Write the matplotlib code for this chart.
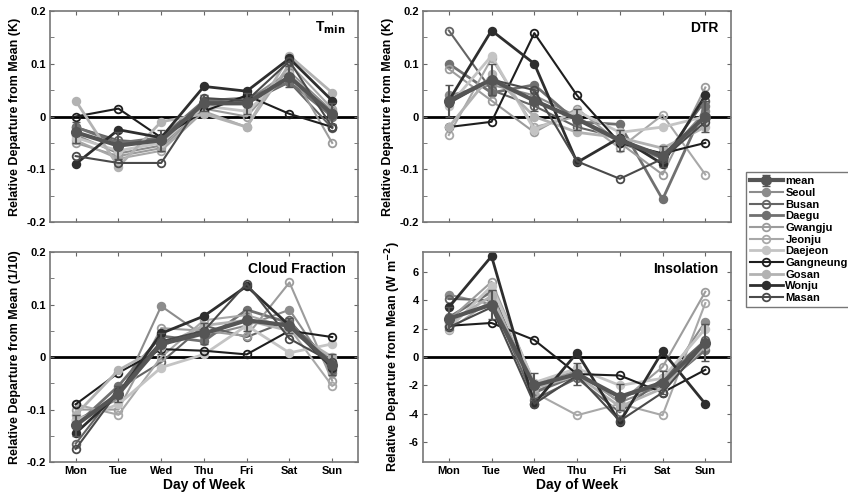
import matplotlib
matplotlib.use("Agg")
import matplotlib.pyplot as plt
import numpy as np
from matplotlib.ticker import MultipleLocator, FuncFormatter

plt.rcParams['font.family'] = ['Liberation Sans', 'DejaVu Sans']
plt.rcParams['font.weight'] = 'bold'
plt.rcParams['mathtext.default'] = 'bf'

days = ["Mon", "Tue", "Wed", "Thu", "Fri", "Sat", "Sun"]
stations = ["Seoul", "Busan", "Daegu", "Gwangju", "Jeonju", "Daejeon",
            "Gangneung", "Gosan", "Wonju", "Masan"]

# valores
tmin_mean = [-0.03, -0.055, -0.045, 0.025, 0.025, 0.075, 0.005]
tmin_err = [0.02, 0.025, 0.02, 0.015, 0.02, 0.02, 0.02]
tmin = {
    "Seoul":     [-0.035, -0.07, -0.055, 0.02, 0.03, 0.085, 0.01],
    "Busan":     [-0.02, -0.045, -0.05, 0.03, 0.025, 0.065, -0.022],
    "Daegu":     [-0.02, -0.05, -0.04, 0.03, 0.035, 0.065, 0.0],
    "Gwangju":   [-0.05, -0.075, -0.06, 0.015, 0.0, 0.09, -0.05],
    "Jeonju":    [-0.045, -0.08, -0.065, 0.01, -0.02, 0.1, 0.015],
    "Daejeon":   [-0.04, -0.065, -0.05, 0.02, 0.01, 0.08, 0.005],
    "Gangneung": [0.0, 0.015, -0.04, 0.01, 0.04, 0.005, -0.02],
    "Gosan":     [0.03, -0.095, -0.01, 0.005, -0.02, 0.115, 0.045],
    "Wonju":     [-0.09, -0.025, -0.04, 0.057, 0.048, 0.11, 0.03],
    "Masan":     [-0.075, -0.088, -0.088, 0.035, 0.03, 0.105, -0.02],
}

dtr_mean = [0.03, 0.07, 0.03, -0.005, -0.045, -0.075, 0.0]
dtr_err = [0.03, 0.03, 0.02, 0.02, 0.02, 0.02, 0.03]
dtr = {
    "Seoul":     [0.04, 0.06, 0.04, 0.0, -0.05, -0.08, 0.01],
    "Busan":     [0.163, 0.05, 0.02, -0.02, -0.04, -0.08, 0.03],
    "Daegu":     [0.1, 0.045, 0.06, -0.01, -0.015, -0.157, 0.02],
    "Gwangju":   [0.09, 0.03, -0.03, 0.015, -0.05, -0.11, 0.055],
    "Jeonju":    [-0.035, 0.11, -0.02, 0.0, -0.06, 0.003, -0.11],
    "Daejeon":   [0.02, 0.115, -0.025, 0.01, -0.03, -0.02, 0.0],
    "Gangneung": [-0.02, -0.01, 0.158, 0.04, -0.05, -0.07, -0.05],
    "Gosan":     [-0.02, 0.08, 0.0, -0.03, -0.04, -0.06, -0.02],
    "Wonju":     [0.03, 0.163, 0.1, -0.087, -0.04, -0.09, 0.04],
    "Masan":     [0.025, 0.07, 0.05, -0.085, -0.118, -0.08, -0.01],
}

cloud_mean = [-0.13, -0.07, 0.025, 0.045, 0.07, 0.06, -0.015]
cloud_err = [0.02, 0.015, 0.02, 0.02, 0.02, 0.015, 0.02]
cloud = {
    "Seoul":     [-0.12, -0.08, 0.097, 0.04, 0.06, 0.09, -0.03],
    "Busan":     [-0.165, -0.06, -0.01, 0.06, 0.038, 0.07, -0.025],
    "Daegu":     [-0.13, -0.055, 0.04, 0.03, 0.09, 0.065, -0.01],
    "Gwangju":   [-0.1, -0.1, 0.055, 0.05, 0.04, 0.142, -0.045],
    "Jeonju":    [-0.09, -0.11, 0.0, 0.07, 0.08, 0.055, -0.055],
    "Daejeon":   [-0.12, -0.09, -0.02, 0.005, 0.06, 0.008, 0.025],
    "Gangneung": [-0.09, -0.03, 0.015, 0.012, 0.005, 0.05, 0.038],
    "Gosan":     [-0.11, -0.025, 0.02, 0.06, 0.07, 0.05, 0.0],
    "Wonju":     [-0.145, -0.07, 0.045, 0.078, 0.135, 0.06, -0.02],
    "Masan":     [-0.175, -0.065, 0.03, 0.05, 0.14, 0.035, -0.01],
}

insol_mean = [2.7, 3.7, -2.0, -1.2, -2.8, -1.8, 1.0]
insol_err = [0.8, 1.0, 0.9, 0.8, 0.9, 0.8, 1.3]
insol = {
    "Seoul":     [4.4, 3.7, -2.5, -1.0, -3.2, -2.0, 2.5],
    "Busan":     [4.1, 4.0, -3.0, -1.5, -3.9, -1.5, 1.2],
    "Daegu":     [2.8, 4.6, -2.5, -1.3, -2.8, -2.0, 0.5],
    "Gwangju":   [2.6, 5.3, -1.8, -1.0, -3.2, -0.7, 4.6],
    "Jeonju":    [1.9, 4.0, -2.5, -4.1, -3.3, -4.1, 3.8],
    "Daejeon":   [2.0, 5.0, -1.8, -0.8, -2.0, -1.5, 2.0],
    "Gangneung": [2.2, 2.4, 1.2, -1.2, -1.3, -2.5, -0.9],
    "Gosan":     [2.4, 4.3, -2.2, -1.3, -3.5, -2.2, 0.8],
    "Wonju":     [3.5, 7.1, -3.3, 0.3, -4.6, 0.4, -3.3],
    "Masan":     [2.1, 3.5, -3.3, -1.3, -4.5, -2.5, 1.0],
}

# estilo de cada estacion (color, relleno, grosor)
styles = {
    "Seoul":     ("#8c8c8c", True, 1.5),
    "Busan":     ("#646464", False, 1.5),
    "Daegu":     ("#707070", True, 2.0),
    "Gwangju":   ("#9c9c9c", False, 1.5),
    "Jeonju":    ("#a8a8a8", False, 1.5),
    "Daejeon":   ("#c4c4c4", True, 2.0),
    "Gangneung": ("#1e1e1e", False, 1.5),
    "Gosan":     ("#b2b2b2", True, 2.0),
    "Wonju":     ("#2e2e2e", True, 2.0),
    "Masan":     ("#4a4a4a", False, 1.5),
}

x = np.arange(1, 8)

fig = plt.figure(figsize=(8.48, 4.99), dpi=100)
pos = [[0.059, 0.555, 0.363, 0.423], [0.499, 0.555, 0.363, 0.423],
       [0.059, 0.074, 0.363, 0.421], [0.499, 0.074, 0.363, 0.421]]

panels = [
    (tmin, tmin_mean, tmin_err, "T$_{min}$", "Relative Departure from Mean (K)", (-0.2, 0.2)),
    (dtr, dtr_mean, dtr_err, "DTR", "Relative Departure from Mean (K)", (-0.2, 0.2)),
    (cloud, cloud_mean, cloud_err, "Cloud Fraction", "Relative Departure from Mean (1/10)", (-0.2, 0.2)),
    (insol, insol_mean, insol_err, "Insolation", "Relative Departure from Mean (W m$^{-2}$)", (-7.4, 7.4)),
]

fmt = FuncFormatter(lambda v, p: "0" if abs(v) < 1e-9 else ("%g" % v))

handles = []
for i, (data, mean, err, title, ylab, ylim) in enumerate(panels):
    ax = fig.add_axes(pos[i])
    ax.axhline(0, color="black", lw=2, zorder=1)
    hs = []
    for s in stations:
        c, filled, lw = styles[s]
        h, = ax.plot(x, data[s], color=c, lw=lw, marker="o", ms=5.5,
                     mfc=c if filled else "none", mec=c, mew=1.3, label=s, zorder=2)
        hs.append(h)
    hm = ax.errorbar(x, mean, yerr=err, color="#555555", lw=3, marker="o", ms=7,
                     mfc="#555555", mec="#555555", capsize=3, elinewidth=1.5,
                     label="mean", zorder=3)
    if i == 0:
        handles = [hm] + hs
    ax.set_xlim(0.4, 7.6)
    ax.set_ylim(*ylim)
    ax.set_xticks(x)
    if i >= 2:
        ax.set_xticklabels(days, fontsize=8, fontweight="bold")
        ax.set_xlabel("Day of Week", fontsize=10, fontweight="bold", labelpad=1)
    else:
        ax.set_xticklabels([])
    if i == 3:
        ax.set_yticks([-6, -4, -2, 0, 2, 4, 6])
    else:
        ax.yaxis.set_major_locator(MultipleLocator(0.1))
        ax.yaxis.set_minor_locator(MultipleLocator(0.05))
    ax.yaxis.set_major_formatter(fmt)
    for lab in ax.get_yticklabels():
        lab.set_fontsize(8)
        lab.set_fontweight("bold")
    ax.set_ylabel(ylab, fontsize=9, fontweight="bold", labelpad=4)
    ax.tick_params(which="both", direction="in", top=True, right=True,
                   color="#666666", pad=3, length=3)
    for sp in ax.spines.values():
        sp.set_color("#777777")
        sp.set_linewidth(1.2)
    ax.text(0.96, 0.92, title, transform=ax.transAxes, ha="right", va="center",
            fontsize=10, fontweight="bold")

leg = fig.legend(handles=handles, labels=["mean"] + stations, loc="center left",
                 bbox_to_anchor=(0.873, 0.52), fontsize=8, frameon=True,
                 fancybox=False, edgecolor="#555555", handlelength=3.0,
                 handletextpad=0.2, labelspacing=0.15, borderpad=0.35)
for t in leg.get_texts():
    t.set_fontweight("bold")

fig.savefig("out.png", dpi=100)
